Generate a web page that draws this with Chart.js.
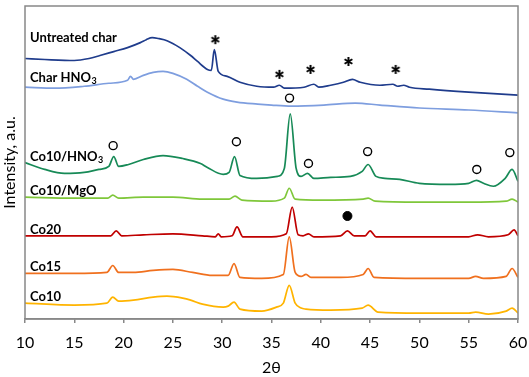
<!DOCTYPE html>
<html><head><meta charset="utf-8">
<script src="https://cdn.jsdelivr.net/npm/chart.js@4.4.0/dist/chart.umd.min.js"></script>
<style>html,body{margin:0;padding:0;background:#fff}canvas{display:block}</style>
</head><body>
<canvas id="c" width="529" height="377"></canvas>
<script>
// ---- data (2θ, intensity a.u. with vertical offsets as plotted) ----
const untreatedChar = [[10,261],[12,260],[15,259],[16.5,261],[17.6,264],[19,268],[20.4,272],[21.7,277],[22.3,280],[22.9,282],[23.6,281],[24.4,279],[25.7,272],[26.8,264],[27.5,258],[28.5,250],[28.9,249],[29.2,270],[29.6,248],[30.5,243],[31.8,237],[33.5,233],[35.2,232],[35.8,234],[36.3,231],[38.3,232],[39.3,235],[39.8,232],[41,234],[42.3,237],[43.2,240],[44,237],[46,234],[47.3,235],[47.8,233],[48.4,234],[49,232],[51,230],[55,227],[60,224]];
const charHNO3 = [[10,232],[13,231],[16,233],[18.5,236],[20.4,239],[20.7,243],[21,240],[22,244],[23,247],[24,248],[25,246],[26.4,240],[27.5,233],[28.5,227],[30.1,220],[31.5,217],[33.6,215],[35,214],[37,213],[40.3,214],[43.5,216],[46,214],[50,211],[55,209],[60,206]];
const co10HNO3 = [[10,156],[12,149],[14,145],[16,146],[17.5,149],[18.5,152],[19.0,162],[19.5,152],[20.5,154],[22,159],[24,163],[26,160],[27.8,155],[28.5,151],[30.1,144],[30.7,146],[31.25,162],[31.8,143],[33.5,140],[35.6,142],[36.3,150],[36.9,205],[37.5,150],[38.0,142],[38.65,145],[39.3,140],[41,141],[43,142],[44.2,147],[44.8,154],[45.6,142],[46.5,140],[48,139],[50,135],[53,134],[55,135],[55.8,138],[56.5,135],[57.5,132],[58.7,140],[59.4,149],[60,137]];
const co10MgO = [[10,121],[15,120],[18.4,120],[18.9,123],[19.5,120],[22,121],[25,121],[28,119],[30.7,119],[31.3,122],[32,118],[35,117],[36.3,120],[36.8,130],[37.4,119],[40,118],[44.3,119],[44.8,120],[45.5,117],[50,116],[55,116],[58.8,117],[59.4,119],[60,116]];
const co20 = [[10,82],[15,82],[18.7,82],[19.25,87],[19.8,82],[22,83],[25,84],[28,82],[29.3,81],[29.6,84],[29.9,81],[31.0,82],[31.5,91],[32.1,81],[35,81],[36.5,84],[37.1,111],[37.7,83],[38.2,82],[38.75,84],[39.3,81],[42,82],[42.7,87],[43.4,82],[44.5,82],[45.0,87],[45.6,81],[50,81],[55,81],[55.9,83],[57,81],[59.0,83],[59.6,88],[60,82]];
const co15 = [[10,44],[15,44],[18.3,45],[18.9,52],[19.5,45],[21,45],[23,47],[25,48],[27,45],[29,42],[30.6,42],[31.2,54],[31.8,40],[34,39],[36.2,43],[36.8,81],[37.4,45],[38.0,41],[38.5,43],[39,40],[42,40],[44.3,43],[44.8,49],[45.4,40],[50,39],[55,39],[55.7,41],[56.5,39],[58.8,41],[59.4,49],[60,40]];
const co10 = [[10,14],[15,12],[18.3,14],[18.9,20],[19.5,16],[21,17],[23,20],[24.4,21],[26,19],[26.8,17],[28,13],[30.1,10],[30.6,11],[31.2,15],[31.8,8],[34,6],[35.5,10],[36.2,14],[36.8,32],[37.4,14],[38.0,9],[38.5,8],[41,7],[44.2,9],[44.8,12],[45.8,5],[50,4],[55,4],[55.7,5],[57,3],[58.8,6],[59.4,9],[60,4]];

const circleMarks = [[18.94,173],[31.44,177],[36.83,221],[38.75,155],[44.75,167],[55.82,149],[59.17,166]];
const asteriskMarks = [[29.3,280],[35.8,245],[38.96,250],[42.8,258],[47.6,250]];
const dotMarks = [[42.7,102]];

const xTicks = [10,15,20,25,30,35,40,45,50,55,60];
const seriesNames = ['Untreated char','Char HNO3','Co10/HNO3','Co10/MgO','Co20','Co15','Co10'];
const seriesLabelY = [282,242,162,127,88,51,20];

const colors = ['#1f3c8c','#7e9edf','#178a57','#7fc73a','#c00000','#f0701e','#ffb400'];
const seriesData = [untreatedChar,charHNO3,co10HNO3,co10MgO,co20,co15,co10];

function toXY(a){return a.map(p=>({x:p[0],y:p[1]}));}

// asterisk point image
const ast = document.createElement('canvas');
ast.width = 11; ast.height = 11;
(function(){
  const g = ast.getContext('2d');
  g.strokeStyle = '#000'; g.lineWidth = 2; g.lineCap='butt';
  for (let i=0;i<3;i++){
    const a = Math.PI/2 + i*Math.PI/3;
    g.beginPath();
    g.moveTo(5.5+4.5*Math.cos(a),5.5+4.5*Math.sin(a));
    g.lineTo(5.5-4.5*Math.cos(a),5.5-4.5*Math.sin(a));
    g.stroke();
  }
})();

const datasets = seriesData.map((d,i)=>({
  type:'line', data:toXY(d), borderColor:colors[i], borderWidth:1.7,
  pointRadius:0, cubicInterpolationMode:'monotone', fill:false
}));
datasets.push({type:'scatter',data:toXY(circleMarks),pointStyle:'circle',pointRadius:4,
  pointBackgroundColor:'rgba(255,255,255,0)',pointBorderColor:'#000',pointBorderWidth:1.4});
datasets.push({type:'scatter',data:toXY(dotMarks),pointStyle:'circle',pointRadius:4.5,
  pointBackgroundColor:'#000',pointBorderColor:'#000',pointBorderWidth:1});
datasets.push({type:'scatter',data:toXY(asteriskMarks),pointStyle:ast,pointRadius:5});

const decor = {
  id:'decor',
  afterDatasetsDraw(chart){
    const {ctx, chartArea:a, scales} = chart;
    ctx.save();
    ctx.strokeStyle = '#888888'; ctx.lineWidth = 1.5;
    ctx.strokeRect(a.left, a.top, a.right-a.left, a.bottom-a.top);
    // series labels
    ctx.fillStyle = '#000';
    ctx.textBaseline = 'middle';
    seriesNames.forEach((n,i)=>{
      const y = scales.y.getPixelForValue(seriesLabelY[i]);
      const x = a.left + 5;
      const m = n.match(/^(.*)(3)$/);
      ctx.font = 'bold 13px Lato';
      if (m){
        ctx.fillText(m[1], x, y);
        const w = ctx.measureText(m[1]).width;
        ctx.font = 'bold 9px Lato';
        ctx.fillText(m[2], x+w+0.5, y+4);
      } else ctx.fillText(n, x, y);
    });
    // y title
    ctx.translate(10, (a.top+a.bottom)/2);
    ctx.rotate(-Math.PI/2);
    ctx.textAlign='center';
    ctx.font = '16px Lato';
    ctx.fillText('Intensity, a.u.', 0, 0);
    ctx.restore();
  }
};

new Chart(document.getElementById('c'), {
  data:{datasets},
  options:{
    responsive:false, animation:false, devicePixelRatio:1,
    layout:{padding:{left:25,right:11,top:3,bottom:0}},
    plugins:{legend:{display:false},tooltip:{enabled:false}},
    scales:{
      x:{type:'linear',min:10,max:60,
        afterBuildTicks(s){ s.ticks = xTicks.map(v=>({value:v})); },
        afterFit(s){ s.height = 58; s.paddingLeft = 0; s.paddingRight = 0; },
        ticks:{padding:10,color:'#000',font:{family:'Lato',size:16}},
        grid:{drawOnChartArea:false,drawTicks:true,tickLength:4,color:'#888888',lineWidth:1.5},
        border:{display:true,color:'#888888',width:1.5},
        title:{display:true,text:'2θ',color:'#000',font:{family:'Lato',size:16},padding:{top:0,bottom:0}}},
      y:{display:false,min:-2,max:314}
    }
  },
  plugins:[decor]
});
</script>
</body></html>
